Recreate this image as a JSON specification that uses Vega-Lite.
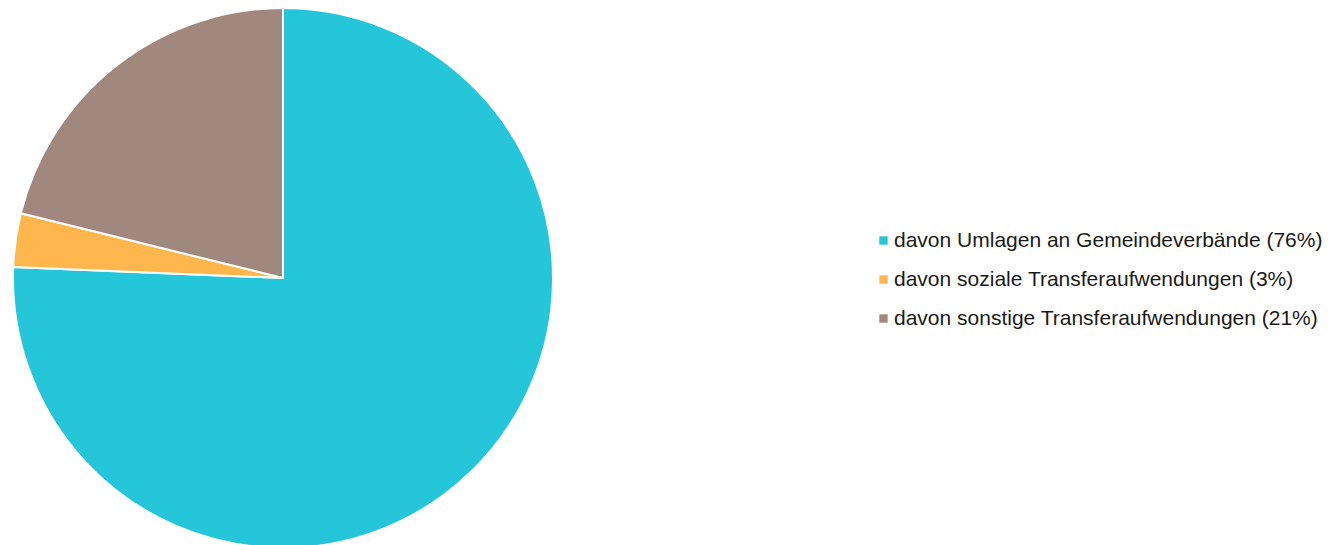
{
  "$schema": "https://vega.github.io/schema/vega-lite/v6.json",
  "width": 566,
  "height": 556,
  "autosize": {"type": "none"},
  "padding": {"left": 0, "top": 0, "right": 768, "bottom": 0},
  "background": "white",
  "config": {"view": {"stroke": null}, "font": "Liberation Sans"},
  "data": {
    "values": [
      {"kategorie": "davon Umlagen an Gemeindeverbände (76%)", "anteil": 75.65, "rang": 1},
      {"kategorie": "davon soziale Transferaufwendungen (3%)", "anteil": 3.2, "rang": 2},
      {"kategorie": "davon sonstige Transferaufwendungen (21%)", "anteil": 21.15, "rang": 3}
    ]
  },
  "mark": {"type": "arc", "outerRadius": 270, "stroke": "white", "strokeWidth": 2},
  "encoding": {
    "theta": {"field": "anteil", "type": "quantitative", "stack": true},
    "order": {"field": "rang", "type": "quantitative"},
    "color": {
      "field": "kategorie",
      "type": "nominal",
      "sort": null,
      "scale": {
        "domain": [
          "davon Umlagen an Gemeindeverbände (76%)",
          "davon soziale Transferaufwendungen (3%)",
          "davon sonstige Transferaufwendungen (21%)"
        ],
        "range": ["#26C6DA", "#FFB74D", "#A1887F"]
      },
      "legend": {
        "title": null,
        "orient": "none",
        "legendX": 873,
        "legendY": 230,
        "symbolType": "square",
        "symbolSize": 70,
        "symbolStrokeWidth": 0,
        "labelFontSize": 21,
        "labelFont": "Liberation Sans",
        "labelColor": "#1a1a1a",
        "labelOffset": 0,
        "labelLimit": 600,
        "rowPadding": 17
      }
    }
  }
}
